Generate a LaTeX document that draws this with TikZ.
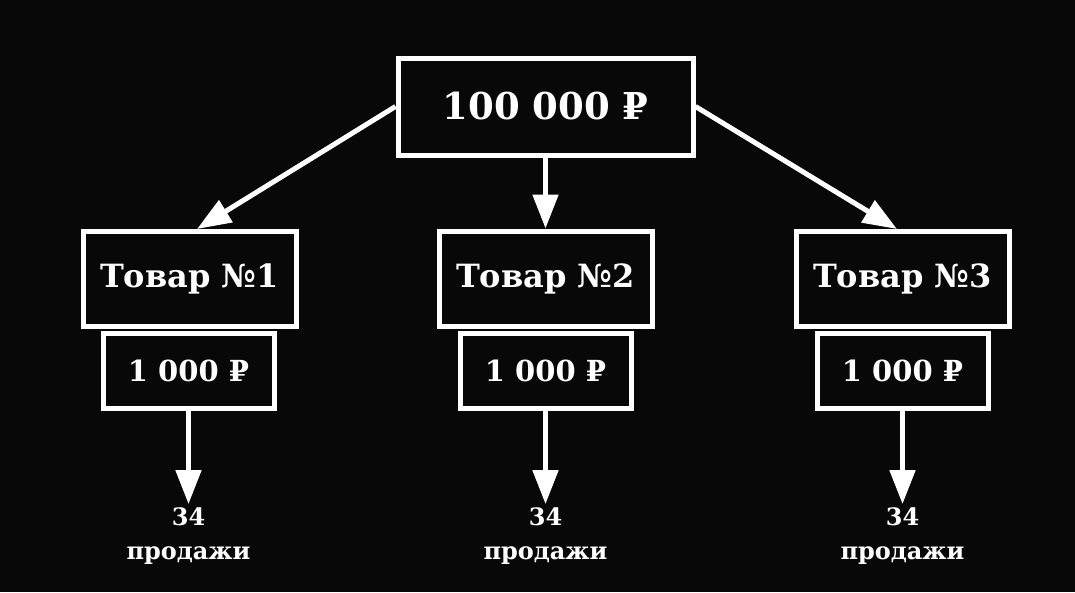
\documentclass[tikz,border=0pt]{standalone}
\usepackage{fontspec}
\setmainfont{DejaVu Serif}
\usepackage{tikz}
\usetikzlibrary{arrows.meta}
\definecolor{BgBlack}{RGB}{8,8,8}

\begin{document}
\begin{tikzpicture}[x=1pt,y=-1pt,
  box/.style={draw=white,line width=5pt,fill=BgBlack,text=white,font=\bfseries,inner sep=0pt},
  arr/.style={-{Triangle[length=34pt,width=25pt]},line width=5pt,white},
  note/.style={text=white,font=\bfseries\fontsize{24}{34}\selectfont,align=center}
]
\fill[BgBlack] (0,0) rectangle (1075,592);
\useasboundingbox (0,0) rectangle (1075,592);
\node[box,minimum width=295pt,minimum height=97pt,font=\bfseries\fontsize{37}{40}\selectfont] (total) at (545.5,106.5) {100 000 ₽};
\node[box,minimum width=213pt,minimum height=95pt,font=\bfseries\fontsize{32}{36}\selectfont] (g1) at (189.5,278.5) {Товар №1};
\node[box,minimum width=213pt,minimum height=95pt,font=\bfseries\fontsize{32}{36}\selectfont] (g2) at (545.5,278.5) {Товар №2};
\node[box,minimum width=213pt,minimum height=95pt,font=\bfseries\fontsize{32}{36}\selectfont] (g3) at (902.5,278.5) {Товар №3};
\node[box,minimum width=171pt,minimum height=75pt,font=\bfseries\fontsize{29}{32}\selectfont] (p1) at (188.5,370.5) {1 000 ₽};
\node[box,minimum width=171pt,minimum height=75pt,font=\bfseries\fontsize{29}{32}\selectfont] (p2) at (545.5,370.5) {1 000 ₽};
\node[box,minimum width=171pt,minimum height=75pt,font=\bfseries\fontsize{29}{32}\selectfont] (p3) at (902.5,370.5) {1 000 ₽};
\node[note] (s1) at (188.5,536) {34\\продажи};
\node[note] (s2) at (545.5,536) {34\\продажи};
\node[note] (s3) at (902.5,536) {34\\продажи};
\coordinate (e1) at (197,229);
\coordinate (e3) at (897,229);
\draw[arr] (total.west) -- (e1);
\draw[arr] (total.south) -- (g2.north);
\draw[arr] (total.east) -- (e3);
\draw[arr] (p1.south) -- (s1.north);
\draw[arr] (p2.south) -- (s2.north);
\draw[arr] (p3.south) -- (s3.north);
\end{tikzpicture}
\end{document}
